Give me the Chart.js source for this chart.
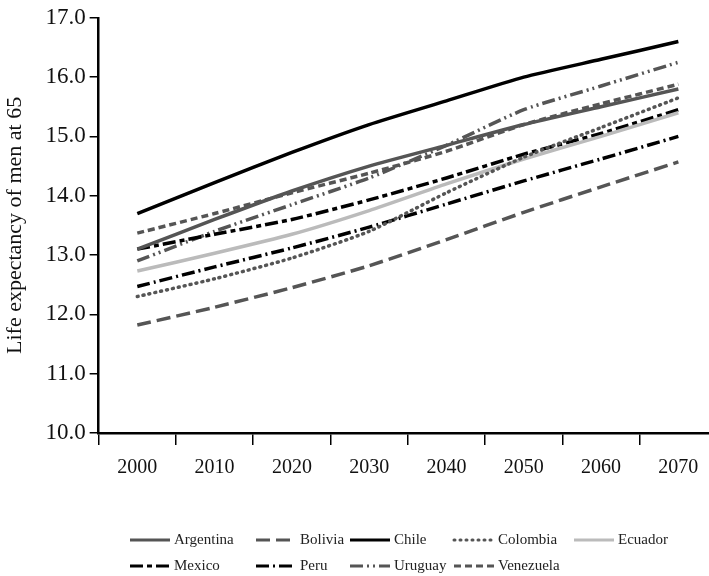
<!DOCTYPE html>
<html>
<head>
<meta charset="utf-8">
<script src="https://cdn.jsdelivr.net/npm/chart.js@4"></script>
<style>
  html, body { margin: 0; padding: 0; background: #fff; overflow: hidden; }
  #wrap { width: 717px; height: 576px; }
</style>
</head>
<body>
<div id="wrap"><canvas id="life-chart"></canvas></div>
<script>
const years = ['2000', '2010', '2020', '2030', '2040', '2050', '2060', '2070'];

const argentina = [13.10, 13.60, 14.08, 14.50, 14.85, 15.20, 15.50, 15.80];
const bolivia   = [11.82, 12.12, 12.45, 12.82, 13.26, 13.72, 14.15, 14.57];
const chile     = [13.70, 14.22, 14.73, 15.20, 15.60, 16.00, 16.30, 16.60];
const colombia  = [12.30, 12.60, 12.95, 13.40, 14.05, 14.65, 15.15, 15.65];
const ecuador   = [12.73, 13.03, 13.35, 13.75, 14.20, 14.62, 15.00, 15.40];
const mexico    = [13.10, 13.35, 13.60, 13.93, 14.30, 14.70, 15.05, 15.45];
const peru      = [12.47, 12.80, 13.12, 13.47, 13.86, 14.25, 14.62, 15.00];
const uruguay   = [12.90, 13.40, 13.85, 14.30, 14.85, 15.45, 15.85, 16.25];
const venezuela = [13.37, 13.70, 14.05, 14.38, 14.75, 15.20, 15.55, 15.88];

const yTicks = [10, 11, 12, 13, 14, 15, 16, 17];

const series = [
    { label: 'Argentina', data: argentina, color: '#555555', dash: [] },
    { label: 'Bolivia', data: bolivia, color: '#555555', dash: [14, 6] },
    { label: 'Chile', data: chile, color: '#000000', dash: [] },
    { label: 'Colombia', data: colombia, color: '#555555', dash: [1, 5], cap: 'round' },
    { label: 'Ecuador', data: ecuador, color: '#bbbbbb', dash: [] },
    { label: 'Mexico', data: mexico, color: '#000000', dash: [13, 4, 5, 4] },
    { label: 'Peru', data: peru, color: '#000000', dash: [13, 4, 2, 4] },
    { label: 'Uruguay', data: uruguay, color: '#555555', dash: [13, 4, 2, 4, 2, 4] },
    { label: 'Venezuela', data: venezuela, color: '#555555', dash: [7, 4] }
];

const serif = "'Liberation Serif', 'DejaVu Serif', serif";

// legend drawn in a fixed grid, 5 items on first row
const legendCols = [130, 256, 350, 454, 574];
const gridLegend = {
    id: 'gridLegend',
    afterDraw(chart) {
        const ctx = chart.ctx;
        ctx.save();
        ctx.font = '15px ' + serif;
        ctx.textBaseline = 'middle';
        ctx.fillStyle = '#222';
        chart.data.datasets.forEach((ds, i) => {
            const row = i < 5 ? 0 : 1;
            const col = i < 5 ? i : i - 5;
            const x = legendCols[col];
            const y = 540 + row * 26;
            ctx.beginPath();
            ctx.strokeStyle = ds.borderColor;
            ctx.lineWidth = 3;
            ctx.lineCap = ds.borderCapStyle || 'butt';
            ctx.setLineDash(ds.borderDash || []);
            ctx.moveTo(x, y);
            ctx.lineTo(x + 40, y);
            ctx.stroke();
            ctx.setLineDash([]);
            ctx.fillText(ds.label, x + 44, y);
        });
        ctx.restore();
    }
};

const ctx = document.getElementById('life-chart');
//eslint-disable-next-line no-undef
new Chart(ctx, {
    type: 'line',
    data: {
        labels: years,
        datasets: series.map(s => ({
            label: s.label,
            data: s.data,
            borderColor: s.color,
            backgroundColor: s.color,
            borderDash: s.dash,
            borderCapStyle: s.cap || 'butt',
            borderWidth: 3.5,
            pointRadius: 0,
            tension: 0.2,
            fill: false
        }))
    },
    options: {
        responsive: true,
        maintainAspectRatio: false,
        animation: false,
        layout: {
            padding: { top: 6, right: 0, bottom: 85, left: 2 }
        },
        plugins: {
            legend: { display: false },
            tooltip: { enabled: false }
        },
        scales: {
            x: {
                offset: true,
                grid: {
                    offset: true,
                    drawOnChartArea: false,
                    color: '#000',
                    lineWidth: 1.5,
                    tickLength: 12
                },
                border: { color: '#000', width: 2.5 },
                ticks: {
                    color: '#111',
                    font: { family: serif, size: 20 },
                    padding: 11,
                    maxRotation: 0
                }
            },
            y: {
                min: 10,
                max: 17,
                afterBuildTicks: axis => {
                    axis.ticks = yTicks.map(v => ({ value: v }));
                },
                grid: {
                    drawOnChartArea: false,
                    color: '#000',
                    lineWidth: 1.5,
                    tickLength: 9
                },
                border: { color: '#000', width: 2.5 },
                ticks: {
                    color: '#111',
                    font: { family: serif, size: 23 },
                    padding: 4,
                    callback: v => Number(v).toFixed(1)
                },
                title: {
                    display: true,
                    text: 'Life expectancy of men at 65',
                    color: '#111',
                    font: { family: serif, size: 22 },
                    padding: { top: 0, bottom: 13 }
                }
            }
        }
    },
    plugins: [gridLegend]
});
</script>
</body>
</html>
